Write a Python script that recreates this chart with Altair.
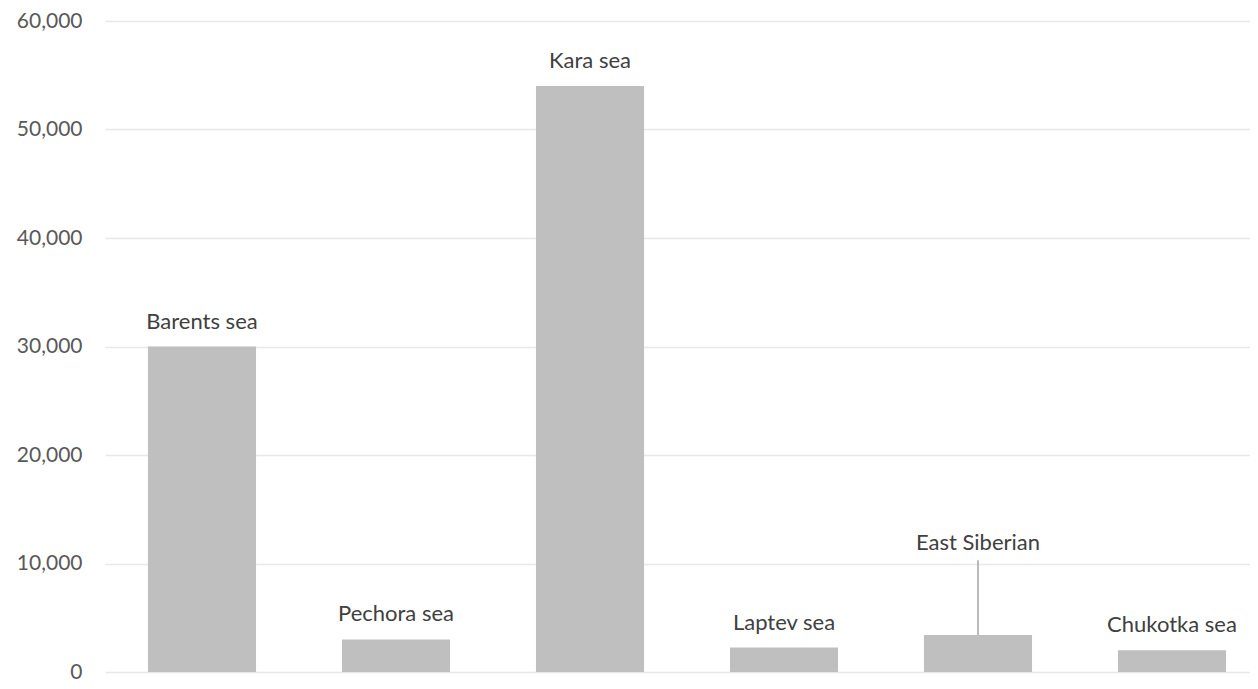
import altair as alt
import pandas as pd

seas = ["Barents sea", "Pechora sea", "Kara sea", "Laptev sea", "East Siberian", "Chukotka sea"]
values = [30000, 3000, 54000, 2250, 3400, 2000]
y_ticks = [0, 10000, 20000, 30000, 40000, 50000, 60000]

# leader-line annotation for the East Siberian label (data units)
callout_sea = ["East Siberian"]
callout_bar = [3400]
callout_line_top = [10300]
callout_label_y = [11900]

df = pd.DataFrame({"sea": seas, "value": values})
df_call = pd.DataFrame({
    "sea": callout_sea,
    "value": callout_bar,
    "line_top": callout_line_top,
    "label_y": callout_label_y,
})

x_enc = alt.X(
    "sea:N",
    sort=seas,
    scale=alt.Scale(range=[0, 1164], paddingInner=0.443, paddingOuter=0.2215),
    axis=None,
)
y_scale = alt.Scale(domain=[0, 60000], nice=False)

bars = alt.Chart(df).mark_bar(color="#bfbfbf").encode(
    x=x_enc,
    y=alt.Y(
        "value:Q",
        scale=y_scale,
        axis=alt.Axis(
            values=y_ticks,
            format=",.0f",
            title=None,
            domain=False,
            ticks=False,
            grid=True,
            gridColor="#e8e8e8",
            gridWidth=1.5,
            labelFont="Lato",
            labelFontSize=21,
            labelColor="#595959",
            labelPadding=23,
        ),
    ),
)

labels = (
    alt.Chart(df)
    .transform_filter(alt.datum.sea != "East Siberian")
    .mark_text(dy=-25, baseline="middle", font="Lato", fontSize=22, color="#404040")
    .encode(x=x_enc, y=alt.Y("value:Q", scale=y_scale), text="sea:N")
)

rule = alt.Chart(df_call).mark_rule(color="#a6a6a6", strokeWidth=1.5).encode(
    x=x_enc,
    y=alt.Y("value:Q", scale=y_scale),
    y2="line_top:Q",
)

call_text = alt.Chart(df_call).mark_text(
    baseline="middle", font="Lato", fontSize=22, color="#404040"
).encode(
    x=x_enc,
    y=alt.Y("label_y:Q", scale=y_scale),
    text="sea:N",
)

chart = (
    alt.layer(bars, labels, rule, call_text)
    .properties(
        width=1145,
        height=651,
        background="white",
        autosize=alt.AutoSizeParams(type="none"),
        padding={"left": 97, "top": 13, "right": 0, "bottom": 9},
    )
    .configure_view(strokeWidth=0, stroke="transparent")
)

chart.save("out.html", embed_options={"renderer": "svg", "actions": False})
